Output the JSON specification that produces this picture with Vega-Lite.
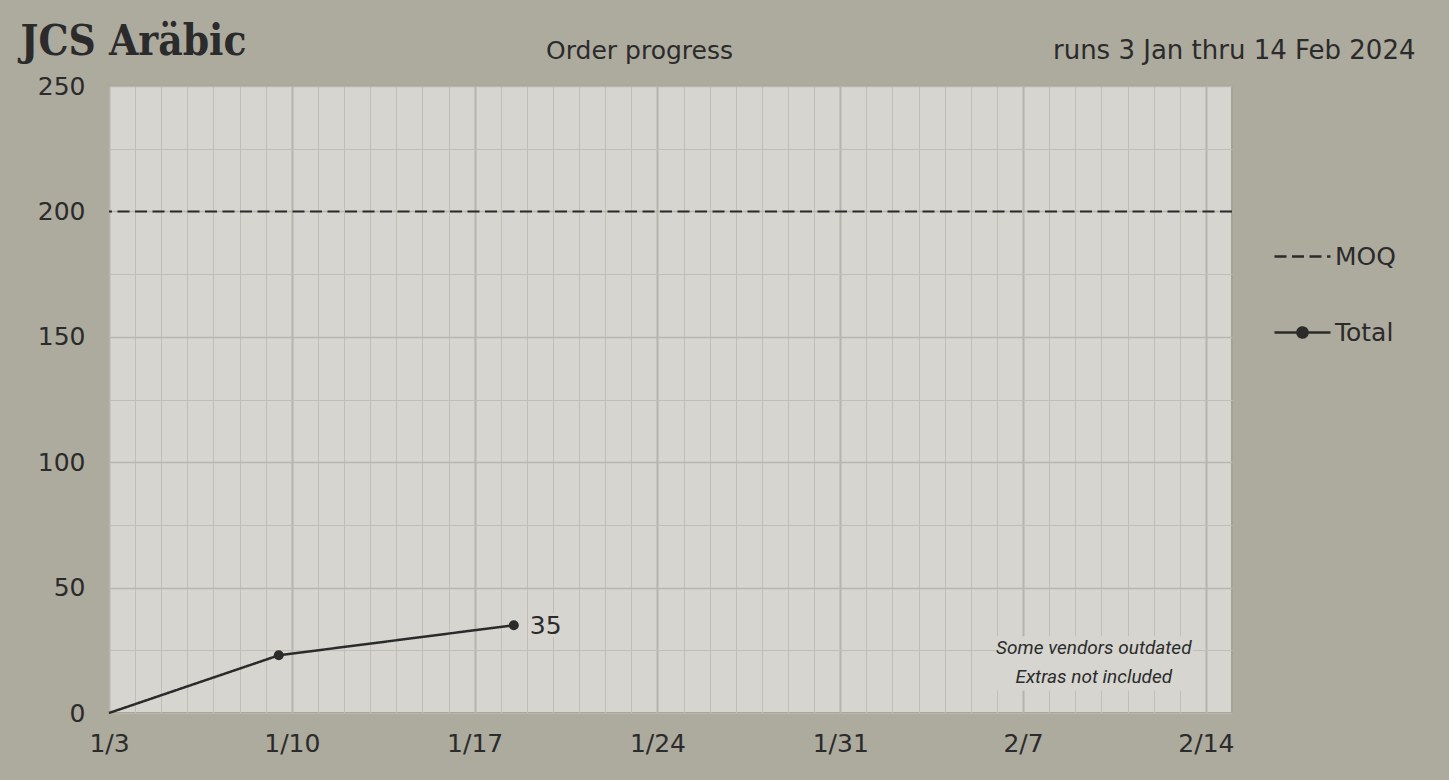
{
  "$schema": "https://vega.github.io/schema/vega-lite/v6.json",
  "width": 1123,
  "height": 627,
  "autosize": {"type": "none"},
  "padding": {"left": 109, "top": 86, "right": 217, "bottom": 67},
  "background": "#adaa9e",
  "config": {
    "font": "DejaVu Sans",
    "view": {"fill": "#d6d5d0", "stroke": "#a4a195", "strokeWidth": 2},
    "axis": {
      "domain": false,
      "ticks": false,
      "labelFont": "DejaVu Sans",
      "labelFontSize": 25,
      "labelColor": "#2b2b2b",
      "titleFont": "DejaVu Sans",
      "titleColor": "#2b2b2b"
    }
  },
  "datasets": {
    "total": [
      {"date": "2024-01-03T00:00:00", "series": "Total", "value": 0},
      {"date": "2024-01-09T12:00:00", "series": "Total", "value": 23},
      {"date": "2024-01-18T12:00:00", "series": "Total", "value": 35}
    ],
    "moq": [{"series": "MOQ", "value": 200}],
    "notes": [{"note": "Some vendors outdated\nExtras not included"}]
  },
  "layer": [
    {
      "data": {"name": "notes"},
      "mark": {"type": "rect", "fill": "#d6d5d0"},
      "encoding": {
        "x": {"datum": {"year": 2024, "month": 2, "date": 6}, "type": "temporal", "axis": null},
        "x2": {"datum": {"year": 2024, "month": 2, "date": 13, "hours": 12}},
        "y": {"datum": 30.6, "type": "quantitative", "axis": null},
        "y2": {"datum": 9}
      }
    },
    {
      "data": {"name": "moq"},
      "mark": {"type": "rule", "color": "#2b2b2b", "strokeWidth": 2},
      "encoding": {
        "y": {
          "field": "value",
          "type": "quantitative",
          "scale": {"domain": [0, 250], "nice": false},
          "axis": {
            "orient": "right",
            "values": [25, 75, 125, 175, 225],
            "labels": false,
            "grid": true,
            "gridColor": "#c0beb6",
            "gridWidth": 1,
            "title": "Order progress",
            "titleAngle": 0,
            "titleX": -593,
            "titleY": -28,
            "titleAlign": "center",
            "titleBaseline": "alphabetic",
            "titleFontSize": 25,
            "titleFontWeight": "normal"
          }
        },
        "strokeDash": {
          "field": "series",
          "type": "nominal",
          "scale": {"domain": ["MOQ", "Total"], "range": [[12, 5.5], [1, 0]]}
        }
      }
    },
    {
      "data": {"name": "total"},
      "mark": {"type": "line", "color": "#2b2b2b", "strokeWidth": 2.5},
      "encoding": {
        "x": {
          "field": "date",
          "type": "temporal",
          "scale": {
            "domain": [{"year": 2024, "month": 1, "date": 3}, {"year": 2024, "month": 2, "date": 15}],
            "nice": false
          },
          "axis": {
            "orient": "bottom",
            "values": [
              {"year": 2024, "month": 1, "date": 3},
              {"year": 2024, "month": 1, "date": 10},
              {"year": 2024, "month": 1, "date": 17},
              {"year": 2024, "month": 1, "date": 24},
              {"year": 2024, "month": 1, "date": 31},
              {"year": 2024, "month": 2, "date": 7},
              {"year": 2024, "month": 2, "date": 14}
            ],
            "format": "%-m/%-d",
            "labelPadding": 18,
            "labelAlign": "center",
            "labelFlush": false,
            "labelOverlap": false,
            "grid": true,
            "gridColor": "#b6b4ab",
            "gridWidth": 2,
            "title": null
          }
        },
        "y": {
          "field": "value",
          "type": "quantitative",
          "axis": {
            "orient": "left",
            "values": [0, 50, 100, 150, 200, 250],
            "labelPadding": 24,
            "grid": true,
            "gridColor": "#b8b6ad",
            "gridWidth": 1.5,
            "title": "JCS Aräbic",
            "titleAngle": 0,
            "titleX": -89,
            "titleY": -32,
            "titleAlign": "left",
            "titleBaseline": "alphabetic",
            "titleFont": "DejaVu Serif Condensed, DejaVu Serif",
            "titleFontSize": 42,
            "titleFontWeight": "bold"
          }
        },
        "strokeDash": {
          "field": "series",
          "type": "nominal",
          "scale": {"domain": ["MOQ", "Total"], "range": [[12, 5.5], [1, 0]]},
          "legend": {
            "orient": "none",
            "legendX": 1164,
            "legendY": 141,
            "title": null,
            "padding": 0,
            "symbolSize": 3136,
            "symbolStrokeWidth": 2.5,
            "symbolStrokeColor": "#2b2b2b",
            "symbolFillColor": "#2b2b2b",
            "labelFont": "DejaVu Sans",
            "labelFontSize": 25,
            "labelColor": "#2b2b2b",
            "labelOffset": 3,
            "rowPadding": 33,
            "encode": {
              "symbols": {
                "update": {
                  "shape": {"signal": "datum.value === 'Total' ? 'M-1,0H1M-0.18,0A0.18,0.18,0,1,1,0.18,0A0.18,0.18,0,1,1,-0.18,0' : 'stroke'"},
                  "fill": {"value": "#2b2b2b"},
                  "stroke": {"value": "#2b2b2b"},
                  "strokeWidth": {"value": 2.5},
                  "opacity": {"value": 1}
                }
              }
            }
          }
        }
      }
    },
    {
      "data": {"name": "total"},
      "transform": [{"filter": "datum.value > 0"}],
      "mark": {"type": "point", "filled": true, "size": 100, "color": "#2b2b2b", "opacity": 1},
      "encoding": {
        "x": {
          "field": "date",
          "type": "temporal",
          "axis": {
            "orient": "top",
            "values": [
              {"year": 2024, "month": 1, "date": 4}, {"year": 2024, "month": 1, "date": 5}, {"year": 2024, "month": 1, "date": 6},
              {"year": 2024, "month": 1, "date": 7}, {"year": 2024, "month": 1, "date": 8}, {"year": 2024, "month": 1, "date": 9},
              {"year": 2024, "month": 1, "date": 11}, {"year": 2024, "month": 1, "date": 12}, {"year": 2024, "month": 1, "date": 13},
              {"year": 2024, "month": 1, "date": 14}, {"year": 2024, "month": 1, "date": 15}, {"year": 2024, "month": 1, "date": 16},
              {"year": 2024, "month": 1, "date": 18}, {"year": 2024, "month": 1, "date": 19}, {"year": 2024, "month": 1, "date": 20},
              {"year": 2024, "month": 1, "date": 21}, {"year": 2024, "month": 1, "date": 22}, {"year": 2024, "month": 1, "date": 23},
              {"year": 2024, "month": 1, "date": 25}, {"year": 2024, "month": 1, "date": 26}, {"year": 2024, "month": 1, "date": 27},
              {"year": 2024, "month": 1, "date": 28}, {"year": 2024, "month": 1, "date": 29}, {"year": 2024, "month": 1, "date": 30},
              {"year": 2024, "month": 2, "date": 1}, {"year": 2024, "month": 2, "date": 2}, {"year": 2024, "month": 2, "date": 3},
              {"year": 2024, "month": 2, "date": 4}, {"year": 2024, "month": 2, "date": 5}, {"year": 2024, "month": 2, "date": 6},
              {"year": 2024, "month": 2, "date": 8}, {"year": 2024, "month": 2, "date": 9}, {"year": 2024, "month": 2, "date": 10},
              {"year": 2024, "month": 2, "date": 11}, {"year": 2024, "month": 2, "date": 12}, {"year": 2024, "month": 2, "date": 13}
            ],
            "labels": false,
            "grid": true,
            "gridColor": "#c0beb6",
            "gridWidth": 1,
            "title": "runs 3 Jan thru 14 Feb 2024",
            "titleX": 1306,
            "titleY": -28,
            "titleAlign": "right",
            "titleBaseline": "alphabetic",
            "titleFontSize": 26,
            "titleFontWeight": "normal"
          }
        },
        "y": {"field": "value", "type": "quantitative", "axis": null}
      }
    },
    {
      "data": {"name": "total"},
      "transform": [
        {"joinaggregate": [{"op": "max", "field": "value", "as": "maxv"}]},
        {"filter": "datum.value === datum.maxv"}
      ],
      "mark": {"type": "text", "align": "left", "baseline": "middle", "dx": 16, "dy": 1, "fontSize": 25, "font": "DejaVu Sans", "stroke": "#d6d5d0", "strokeWidth": 6, "fill": "#d6d5d0"},
      "encoding": {
        "x": {"field": "date", "type": "temporal", "axis": null},
        "y": {"field": "value", "type": "quantitative", "axis": null},
        "text": {"field": "value", "type": "quantitative"}
      }
    },
    {
      "data": {"name": "total"},
      "transform": [
        {"joinaggregate": [{"op": "max", "field": "value", "as": "maxv"}]},
        {"filter": "datum.value === datum.maxv"}
      ],
      "mark": {"type": "text", "align": "left", "baseline": "middle", "dx": 16, "dy": 1, "fontSize": 25, "font": "DejaVu Sans", "color": "#2b2b2b"},
      "encoding": {
        "x": {"field": "date", "type": "temporal", "axis": null},
        "y": {"field": "value", "type": "quantitative", "axis": null},
        "text": {"field": "value", "type": "quantitative"}
      }
    },
    {
      "data": {"name": "notes"},
      "mark": {
        "type": "text",
        "align": "center",
        "baseline": "alphabetic",
        "lineBreak": "\n",
        "lineHeight": 29.4,
        "font": "Roboto",
        "fontStyle": "italic",
        "fontSize": 19,
        "color": "#2b2b2b"
      },
      "encoding": {
        "x": {"datum": {"year": 2024, "month": 2, "date": 9, "hours": 17}, "type": "temporal", "axis": null},
        "y": {"datum": 23.7, "type": "quantitative", "axis": null},
        "text": {"field": "note", "type": "nominal"}
      }
    }
  ]
}
